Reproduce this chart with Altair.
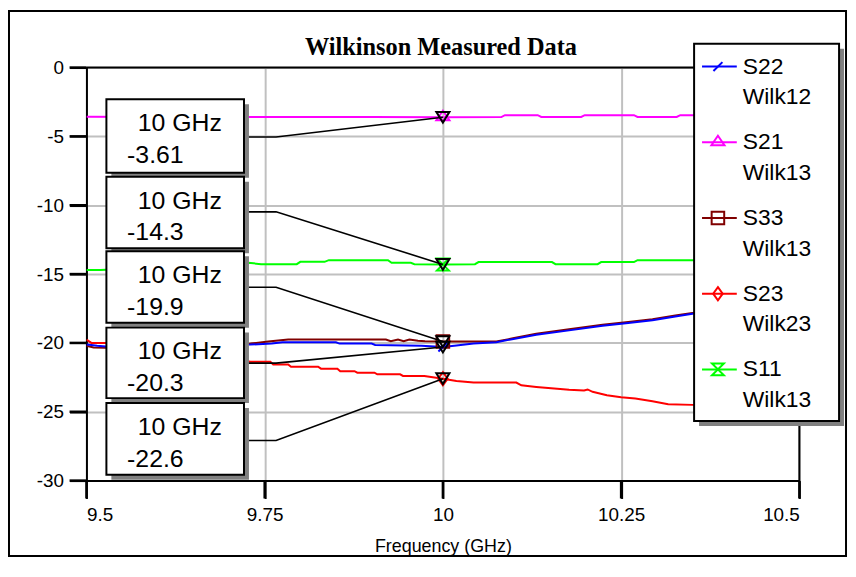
import altair as alt
import pandas as pd

# ---------------- data ----------------
S22_freq = [9.50, 9.507, 9.515, 9.527, 9.60, 9.70, 9.73, 9.76, 9.775, 9.85, 9.855, 9.90, 9.905, 9.97,
            10.00, 10.019, 10.043, 10.075, 10.099, 10.131, 10.177, 10.224, 10.26, 10.294, 10.326, 10.35,
            10.42, 10.50]
S22_db = [-20.12, -20.15, -20.2, -20.26, -20.25, -20.15, -20.12, -20.05, -19.95, -19.95, -20.05, -20.05,
          -20.15, -20.2, -20.3, -20.19, -20.05, -19.95, -19.71, -19.4, -19.09, -18.75, -18.56, -18.36,
          -18.08, -17.88, -17.5, -17.1]

S21_freq = [9.50, 9.60, 9.70, 9.80, 9.90, 10.00, 10.082, 10.087, 10.133, 10.138, 10.194, 10.199, 10.268,
            10.273, 10.328, 10.333, 10.42, 10.50]
S21_db = [-3.58, -3.59, -3.60, -3.59, -3.60, -3.61, -3.60, -3.46, -3.46, -3.59, -3.59, -3.46, -3.46,
          -3.59, -3.59, -3.46, -3.46, -3.45]

S33_freq = [9.50, 9.51, 9.527, 9.60, 9.70, 9.73, 9.755, 9.783, 9.92, 9.927, 9.937, 9.945, 9.953, 9.965,
            9.975, 10.00, 10.075, 10.10, 10.131, 10.177, 10.224, 10.26, 10.294, 10.326, 10.35, 10.42, 10.50]
S33_db = [-20.2, -20.33, -20.35, -20.3, -20.15, -20.05, -19.9, -19.76, -19.76, -19.88, -19.76, -19.88,
          -19.76, -19.85, -19.88, -19.9, -19.9, -19.65, -19.33, -19.0, -18.68, -18.48, -18.28, -18.0,
          -17.82, -17.45, -17.05]

S23_freq = [9.50, 9.507, 9.527, 9.60, 9.70, 9.73, 9.758, 9.762, 9.783, 9.787, 9.825, 9.829, 9.852, 9.856,
            9.876, 9.88, 9.904, 9.908, 9.94, 9.944, 9.974, 10.00, 10.019, 10.043, 10.103, 10.11, 10.131,
            10.177, 10.198, 10.203, 10.21, 10.23, 10.25, 10.27, 10.294, 10.316, 10.35, 10.42, 10.50]
S23_db = [-19.76, -20.0, -20.0, -20.5, -21.1, -21.37, -21.37, -21.56, -21.56, -21.73, -21.73, -21.87,
          -21.87, -22.05, -22.05, -22.16, -22.16, -22.28, -22.28, -22.4, -22.4, -22.6, -22.76, -22.88,
          -22.88, -23.08, -23.2, -23.41, -23.45, -23.38, -23.55, -23.8, -23.94, -24.04, -24.23, -24.45,
          -24.5, -24.6, -24.7]

S11_freq = [9.50, 9.52, 9.60, 9.70, 9.727, 9.745, 9.795, 9.80, 9.834, 9.84, 9.923, 9.928, 9.955, 9.96,
            10.00, 10.045, 10.05, 10.153, 10.158, 10.217, 10.222, 10.268, 10.273, 10.42, 10.50]
S11_db = [-14.71, -14.71, -14.5, -14.25, -14.18, -14.28, -14.28, -14.11, -14.11, -13.99, -13.99, -14.18,
          -14.18, -14.28, -14.3, -14.28, -14.13, -14.13, -14.28, -14.28, -14.13, -14.13, -13.99, -13.99,
          -13.95]

series_names = ["S22", "S21", "S33", "S23", "S11"]
series_files = ["Wilk12", "Wilk13", "Wilk13", "Wilk23", "Wilk13"]
series_data = {
    "S22": (S22_freq, S22_db),
    "S21": (S21_freq, S21_db),
    "S33": (S33_freq, S33_db),
    "S23": (S23_freq, S23_db),
    "S11": (S11_freq, S11_db),
}
draw_order = ["S33", "S22", "S23", "S11", "S21"]

marker_freq = 10.0
marker_series = ["S21", "S11", "S33", "S22", "S23"]
marker_db = [-3.61, -14.3, -19.9, -20.3, -22.6]
marker_freq_label = ["10 GHz", "10 GHz", "10 GHz", "10 GHz", "10 GHz"]
marker_value_label = ["-3.61", "-14.3", "-19.9", "-20.3", "-22.6"]

x_ticks = [9.5, 9.75, 10, 10.25, 10.5]
y_ticks = [0, -5, -10, -15, -20, -25, -30]

# ---------------- styles / layout ----------------
colors = {"S22": "#0000FF", "S21": "#FF00FF", "S33": "#800000", "S23": "#FF0000", "S11": "#00FF00"}
shapes = {
    "S22": "M-0.75,0.75L0.75,-0.75",
    "S21": "M-1.1,0.5L1.1,0.5L0,-1.1Z",
    "S33": "square",
    "S23": "M0,-1.1L0.8,0L0,1.1L-0.8,0Z",
    "S11": "M-1,-1L1,-1L-1,1L1,1Z",
}
cursor_shape = "M-1.1,-0.9L1.1,-0.9L0,0.9Z"
SANS = "Liberation Sans"
SERIF = "Liberation Serif"

W, H = 718, 416
XT, YT = 18, 17  # tick lengths
xs = alt.Scale(domain=[9.5, 10.5], nice=False, zero=False)
ys = alt.Scale(domain=[-30, 0], nice=False, zero=False)
x_axis = alt.Axis(values=x_ticks, labelExpr="'' + datum.value", title="Frequency (GHz)", grid=True,
                  tickSize=XT, labelPadding=7, titlePadding=13)
y_axis = alt.Axis(values=y_ticks, labelExpr="'' + datum.value", title="", grid=True,
                  tickSize=YT, labelPadding=6)


def X(field):
    return alt.X(field, scale=xs, axis=x_axis)


def Y(field):
    return alt.Y(field, scale=ys, axis=y_axis)


# annotation box layout (data units)
box_top = [-2.31, -7.93, -13.34, -18.89, -24.37]
box_bottom = [-7.64, -13.12, -18.53, -24.01, -29.57]
leader_level = [-5.05, -10.48, -15.96, -21.47, -27.09]
box_x0, box_x1 = 9.528, 9.721
leader_x0, bend_x = 9.70, 9.766
text1_x, text2_x = 9.631, 9.557

one = pd.DataFrame({"k": [0]})
layers = []

# series lines
for name in draw_order:
    f, v = series_data[name]
    df = pd.DataFrame({"freq": f, "db": v, "idx": range(len(f))})
    layers.append(alt.Chart(df).mark_line(color=colors[name], strokeWidth=2, clip=True)
                  .encode(x=X("freq:Q"), y=Y("db:Q"), order="idx:Q"))

# explicit black tick marks
xt = pd.DataFrame({"freq": x_ticks})
yt = pd.DataFrame({"db": y_ticks})
layers.append(alt.Chart(xt).mark_rule(color="#000000", strokeWidth=2.5)
              .encode(x=X("freq:Q"), y=alt.value(H), y2=alt.value(H + XT)))
layers.append(alt.Chart(yt).mark_rule(color="#000000", strokeWidth=2.5)
              .encode(y=Y("db:Q"), x=alt.value(-YT), x2=alt.value(0)))

# colored series markers at 10 GHz
for s, v in zip(marker_series, marker_db):
    dfm = pd.DataFrame({"freq": [marker_freq], "db": [v]})
    sz = 160 if s == "S33" else 144
    layers.append(alt.Chart(dfm).mark_point(shape=shapes[s], size=sz, filled=False, color=colors[s],
                                            strokeWidth=2, opacity=1)
                  .encode(x=X("freq:Q"), y=Y("db:Q")))

# leader lines
rows = []
for b in range(5):
    rows += [{"box": b, "o": 0, "freq": leader_x0, "db": leader_level[b]},
             {"box": b, "o": 1, "freq": bend_x, "db": leader_level[b]},
             {"box": b, "o": 2, "freq": marker_freq, "db": marker_db[b]}]
lead = pd.DataFrame(rows)
layers.append(alt.Chart(lead).mark_line(color="black", strokeWidth=1.6)
              .encode(x=X("freq:Q"), y=Y("db:Q"), detail="box:N", order="o:Q"))

# black cursor triangles
cur = pd.DataFrame({"freq": [marker_freq] * 5, "db": marker_db})
layers.append(alt.Chart(cur).mark_point(shape=cursor_shape, size=144, filled=False, color="black",
                                        strokeWidth=2, opacity=1)
              .encode(x=X("freq:Q"), y=Y("db:Q")))

# annotation boxes
boxes = pd.DataFrame({"freq": [box_x0] * 5, "x1": [box_x1] * 5, "db": box_top, "bottom": box_bottom,
                      "l1": marker_freq_label, "l2": marker_value_label})
boxes["t1x"] = text1_x
boxes["t2x"] = text2_x
layers.append(alt.Chart(boxes).mark_rect(color="#808080", xOffset=5, x2Offset=5, yOffset=5, y2Offset=5)
              .encode(x=X("freq:Q"), x2="x1:Q", y=Y("db:Q"), y2="bottom:Q"))
layers.append(alt.Chart(boxes).mark_rect(fill="white", stroke="black", strokeWidth=2)
              .encode(x=X("freq:Q"), x2="x1:Q", y=Y("db:Q"), y2="bottom:Q"))
layers.append(alt.Chart(boxes).mark_text(font=SANS, fontSize=25, align="center", baseline="alphabetic",
                                         dy=32, color="black")
              .encode(x=X("t1x:Q"), y=Y("db:Q"), text="l1:N"))
layers.append(alt.Chart(boxes).mark_text(font=SANS, fontSize=25, align="left", baseline="alphabetic",
                                         dy=64, color="black")
              .encode(x=X("t2x:Q"), y=Y("db:Q"), text="l2:N"))

# plot frame top / right
layers.append(alt.Chart(one).mark_rule(color="black", strokeWidth=2)
              .encode(x=alt.value(0), x2=alt.value(W), y=alt.value(0)))
layers.append(alt.Chart(one).mark_rule(color="black", strokeWidth=2)
              .encode(x=alt.value(W), y=alt.value(0), y2=alt.value(H)))

# legend
LX0, LX1, LY0, LY1 = 612, 758, -24, 356
layers.append(alt.Chart(one).mark_rect(fill="#808080")
              .encode(x=alt.value(LX0 + 5), x2=alt.value(LX1 + 5), y=alt.value(LY0 + 5), y2=alt.value(LY1 + 5)))
layers.append(alt.Chart(one).mark_rect(fill="white", stroke="black", strokeWidth=2)
              .encode(x=alt.value(LX0), x2=alt.value(LX1), y=alt.value(LY0), y2=alt.value(LY1)))
for i, (name, fname) in enumerate(zip(series_names, series_files)):
    ly = -1 + 76.25 * i
    c = colors[name]
    layers.append(alt.Chart(one).mark_rule(color=c, strokeWidth=2)
                  .encode(x=alt.value(620), x2=alt.value(655), y=alt.value(ly)))
    sz = 160 if name == "S33" else 144
    layers.append(alt.Chart(one).mark_point(shape=shapes[name], size=sz, filled=False, color=c,
                                            strokeWidth=2, opacity=1)
                  .encode(x=alt.value(636), y=alt.value(ly)))
    layers.append(alt.Chart(one).mark_text(font=SANS, fontSize=23, align="left", baseline="alphabetic",
                                           color="black", text=name)
                  .encode(x=alt.value(661), y=alt.value(ly + 7)))
    layers.append(alt.Chart(one).mark_text(font=SANS, fontSize=23, align="left", baseline="alphabetic",
                                           color="black", text=fname)
                  .encode(x=alt.value(661), y=alt.value(ly + 38)))

# title and outer frame
layers.append(alt.Chart(one).mark_text(font=SERIF, fontSize=24.5, fontWeight="bold", align="center",
                                       baseline="alphabetic", color="black",
                                       text="Wilkinson Measured Data")
              .encode(x=alt.value(357), y=alt.value(-13)))
layers.append(alt.Chart(one).mark_rect(fillOpacity=0, stroke="black", strokeWidth=2)
              .encode(x=alt.value(-78), x2=alt.value(765), y=alt.value(-57), y2=alt.value(492)))

chart = (alt.layer(*layers)
         .properties(width=W, height=H, autosize=alt.AutoSizeParams(type="none"),
                     padding={"left": 79, "top": 58, "right": 49, "bottom": 78})
         .configure_view(strokeWidth=0)
         .configure_axis(domainColor="black", domainWidth=2, tickColor="black", tickWidth=2,
                         gridColor="#C0C0C0", gridWidth=2, labelFont=SANS, labelFontSize=19,
                         labelColor="black", titleFont=SANS, titleFontSize=18,
                         titleFontWeight="normal", titleColor="black"))

chart.save("out.html", embed_options={"renderer": "svg", "actions": False})
